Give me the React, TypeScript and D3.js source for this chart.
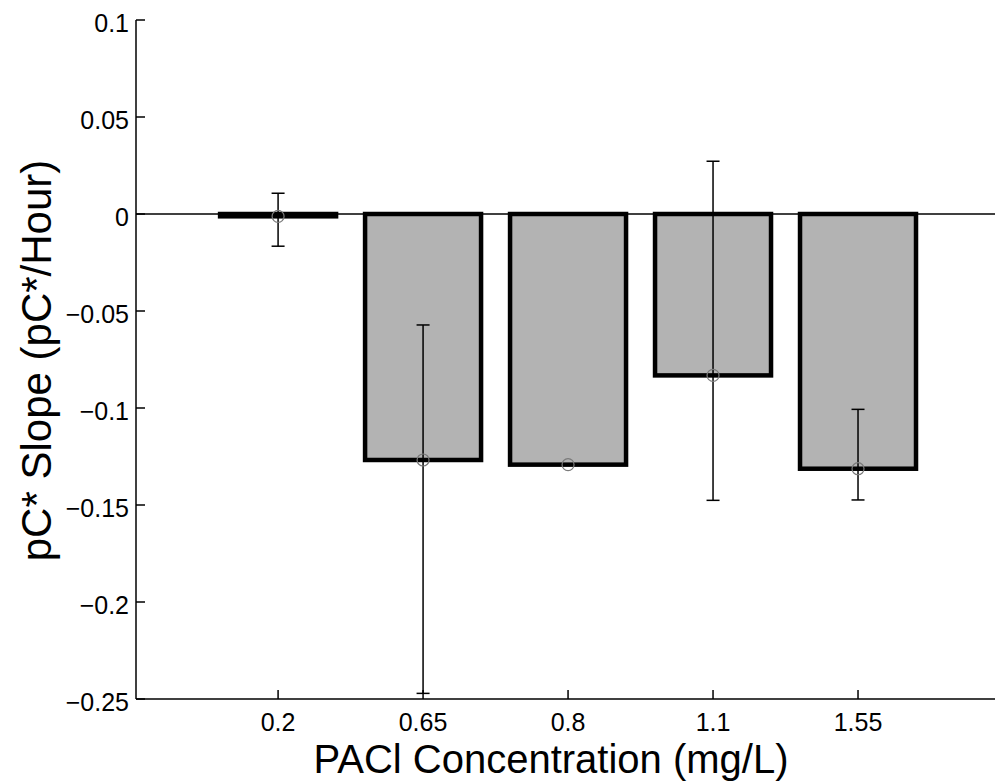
import React from 'react';
import * as d3 from 'd3';

// concentrations on the x axis (categorical)
const categories = ['0.2', '0.65', '0.8', '1.1', '1.55'];
// mean slope for each concentration
const means = [-0.0012, -0.1268, -0.1292, -0.0832, -0.1313];
// error bar ends
const errUpper = [0.0107, -0.0572, -0.1292, 0.0272, -0.1007];
const errLower = [-0.0166, -0.2471, -0.1292, -0.1476, -0.1474];
const yTicks = [0.1, 0.05, 0, -0.05, -0.1, -0.15, -0.2, -0.25];

const W = 995;
const H = 784;
const FONT = '"Liberation Sans", Arial, sans-serif';

const fmt = (v: number) => {
  const s = d3.format('')(+v.toFixed(2));
  return s.replace('-', '\u2212');
};

export default function App() {
  const x = d3.scaleLinear().domain([0.02, 6]).range([136, 1003]);
  const y = d3.scaleLinear().domain([-0.25, 0.1]).range([699, 20]);
  const barW = x(0.8) - x(0);
  const cap = 13;
  const tick = 9;
  const [x0] = x.range();
  const [yBottom, yTop] = y.range();

  return (
    <div style={{ position: 'absolute', left: 0, top: 0 }}>
      <svg width={W} height={H} style={{ display: 'block', background: '#fff' }} fontFamily={FONT}>
        {/* zero line */}
        <line x1={x0} x2={W} y1={y(0)} y2={y(0)} stroke="#000" strokeWidth={1.3} />

        {/* bars */}
        {means.map((m, i) => (
          <rect
            key={'b' + i}
            x={x(i + 1) - barW / 2}
            y={y(Math.max(0, m))}
            width={barW}
            height={Math.abs(y(m) - y(0))}
            fill="#b3b3b3"
            stroke="#000"
            strokeWidth={4.5}
          />
        ))}

        {/* axes */}
        <line x1={x0} x2={x0} y1={yTop} y2={yBottom} stroke="#000" strokeWidth={1.5} />
        <line x1={x0} x2={W} y1={yBottom} y2={yBottom} stroke="#000" strokeWidth={1.5} />
        {yTicks.map((t) => (
          <g key={'yt' + t}>
            <line x1={x0} x2={x0 + tick} y1={y(t)} y2={y(t)} stroke="#000" strokeWidth={1.5} />
            <text x={129} y={y(t) + 12} textAnchor="end" fontSize={25} fill="#000">
              {fmt(t)}
            </text>
          </g>
        ))}
        {categories.map((c, i) => (
          <g key={'xt' + c}>
            <line x1={x(i + 1)} x2={x(i + 1)} y1={yBottom} y2={yBottom - tick} stroke="#000" strokeWidth={1.5} />
            <text x={x(i + 1)} y={yBottom + 32} textAnchor="middle" fontSize={25} fill="#000">
              {c}
            </text>
          </g>
        ))}

        {/* error bars */}
        {means.map((m, i) => {
          const cx = x(i + 1);
          return (
            <g key={'e' + i} stroke="#000" strokeWidth={1.5}>
              <line x1={cx} x2={cx} y1={y(errUpper[i])} y2={y(errLower[i])} />
              <line x1={cx - cap / 2} x2={cx + cap / 2} y1={y(errUpper[i])} y2={y(errUpper[i])} />
              <line x1={cx - cap / 2} x2={cx + cap / 2} y1={y(errLower[i])} y2={y(errLower[i])} />
            </g>
          );
        })}

        {/* mean markers */}
        {means.map((m, i) => (
          <circle key={'c' + i} cx={x(i + 1)} cy={y(m)} r={6} fill="none" stroke="#7a7a7a" strokeWidth={1.2} />
        ))}

        {/* axis labels */}
        <text x={551} y={773} textAnchor="middle" fontSize={40} fill="#000">
          PACl Concentration (mg/L)
        </text>
        <text
          transform={`translate(51, ${(yTop + yBottom) / 2 + 1}) rotate(-90)`}
          textAnchor="middle"
          fontSize={42}
          fill="#000"
        >
          pC* Slope (pC*/Hour)
        </text>
      </svg>
    </div>
  );
}
